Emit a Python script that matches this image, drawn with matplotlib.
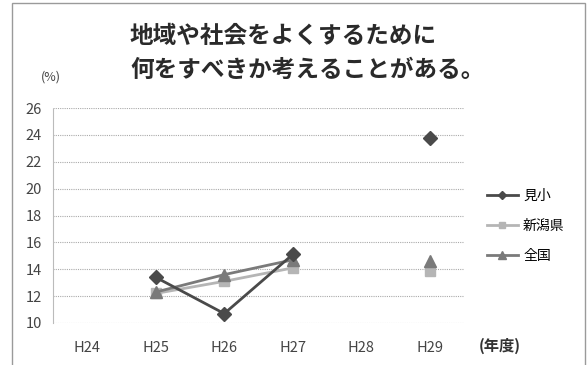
import numpy as np
import matplotlib as mpl
mpl.use("Agg")
import matplotlib.pyplot as plt
from matplotlib.patches import Rectangle

plt.rcParams['font.family'] = ['Noto Sans CJK JP', 'DejaVu Sans']

YEARS = ["H24", "H25", "H26", "H27", "H28", "H29"]
MIKO = [np.nan, 13.4, 10.7, 15.1, np.nan, 23.8]
NIIGATA = [np.nan, 12.2, 13.1, 14.1, np.nan, 13.9]
ZENKOKU = [np.nan, 12.3, 13.6, 14.7, np.nan, 14.6]
YTICKS = [10, 12, 14, 16, 18, 20, 22, 24, 26]

W, H = 587, 365
fig = plt.figure(figsize=(W / 100, H / 100), dpi=100)
ax = fig.add_axes([53 / W, 1 - 323 / H, (464 - 53) / W, (323 - 108) / H])

# outer chart frame
fig.patches.append(Rectangle((12 / W, -0.05), (585 - 12) / W, 1.05 - 3 / H,
                             transform=fig.transFigure, fill=False,
                             edgecolor="#9a9a9a", lw=1.0))

x = np.arange(len(YEARS))
ax.plot(x, NIIGATA, color="#b5b5b5", lw=2.0, marker="s", ms=7, label="新潟県")
ax.plot(x, ZENKOKU, color="#7a7a7a", lw=2.0, marker="^", ms=8, label="全国")
ax.plot(x, MIKO, color="#4a4a4a", lw=2.0, marker="D", ms=7, label="見小")

ax.set_xlim(-0.5, len(YEARS) - 0.5)
ax.set_ylim(10, 26)
ax.set_yticks(YTICKS)
ax.set_xticks(x, YEARS)
ax.tick_params(length=0, labelsize=10.5, colors="#444444")
ax.tick_params(axis="y", pad=8)
ax.tick_params(axis="x", pad=13)
ax.grid(axis="y", ls=(0, (1, 1)), color="#aaaaaa", lw=0.8)
for s in ("top", "right", "bottom"):
    ax.spines[s].set_visible(False)
ax.spines["left"].set_linestyle((0, (1, 1)))
ax.spines["left"].set_color("#bbbbbb")

h, l = ax.get_legend_handles_labels()
order = [2, 0, 1]
fig.legend([h[i] for i in order], [l[i] for i in order],
           loc="upper left", bbox_to_anchor=(487 / W, 1 - 189 / H),
           frameon=False, fontsize=10, handlelength=2.2, labelspacing=1.15,
           handletextpad=0.4, borderpad=0, borderaxespad=0, markerscale=0.65)

fig.text(130 / W, 1 - 36 / H, "地域や社会をよくするために", ha="left",
         va="center", fontsize=17, fontweight="bold", color="#2a2a2a")
fig.text(130 / W, 1 - 70 / H, "何をすべきか考えることがある。", ha="left",
         va="center", fontsize=17, fontweight="bold", color="#2a2a2a")
fig.text(51 / W, 1 - 77 / H, "(%)", ha="center", va="center", fontsize=9,
         color="#444444")
fig.text(500 / W, 1 - 346 / H, "(年度)", ha="center", va="center",
         fontsize=11, fontweight="bold", color="#333333")

fig.savefig("out.png", dpi=100)
